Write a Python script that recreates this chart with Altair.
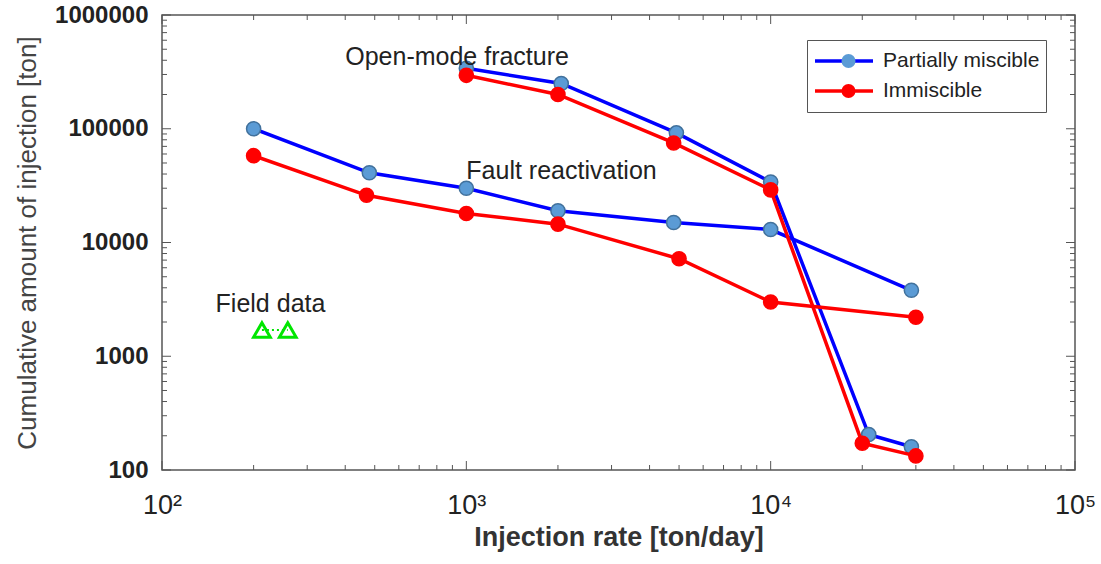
import altair as alt
import pandas as pd

# ---- data: injection rate [ton/day] vs cumulative injected mass [ton] ----
series_names = ["Partially miscible", "Immiscible"]

# fault-reactivation branch
fault_rate_pm = [200, 480, 1000, 2000, 4800, 10000, 29000]
fault_amt_pm = [100000, 41000, 30000, 19000, 15000, 13000, 3800]
fault_rate_im = [200, 470, 1000, 2000, 5000, 10000, 30000]
fault_amt_im = [58000, 26000, 18000, 14500, 7200, 3000, 2200]

# open-mode fracture branch
open_rate_pm = [1000, 2050, 4900, 10000, 21000, 29000]
open_amt_pm = [340000, 250000, 92000, 34000, 205, 160]
open_rate_im = [1000, 2000, 4800, 10000, 20000, 30000]
open_amt_im = [295000, 200000, 75000, 29000, 172, 133]

# field observations
field_rate = [213, 259]
field_amt = [1700, 1700]

# annotations
note_text = ["Open-mode fracture", "Fault reactivation", "Field data"]
note_rate = [400, 1000, 150]
note_amt = [430000, 42500, 2880]

# axis ticks
x_major = [100, 1000, 10000, 100000]
y_major = [100, 1000, 10000, 100000, 1000000]

line_colors = ["#0000ff", "#ff0000"]
marker_fill = ["#5b9bd5", "#ff0000"]
marker_edge = ["#41719c", "#ff0000"]

rows = []
for name, branch, rates, amts in [
    (series_names[0], "fault", fault_rate_pm, fault_amt_pm),
    (series_names[1], "fault", fault_rate_im, fault_amt_im),
    (series_names[0], "open", open_rate_pm, open_amt_pm),
    (series_names[1], "open", open_rate_im, open_amt_im),
]:
    for r, a in zip(rates, amts):
        rows.append({"rate": r, "amount": a, "series": name,
                     "series_pt": name, "branch": branch})
df = pd.DataFrame(rows)

field_df = pd.DataFrame({"rate": field_rate, "amount": field_amt})
note_df = pd.DataFrame({"rate": note_rate, "amount": note_amt, "text": note_text})


def minor_ticks(majors):
    vals = []
    for m in majors[:-1]:
        vals += [k * m for k in range(2, 10)]
    return vals


x_ticks = pd.DataFrame({"v": x_major + minor_ticks(x_major),
                        "kind": ["major"] * len(x_major) + ["minor"] * (len(x_major) - 1) * 8})
y_ticks = pd.DataFrame({"v": y_major + minor_ticks(y_major),
                        "kind": ["major"] * len(y_major) + ["minor"] * (len(y_major) - 1) * 8})

W, H = 913, 455
TICK = {"major": 9, "minor": 5}
FRAME = "#555555"

xs = alt.Scale(type="log", domain=[100, 100000], nice=False)
ys = alt.Scale(type="log", domain=[100, 1000000], nice=False)

x_axis = alt.Axis(
    values=x_major, ticks=False, domain=False, grid=False,
    labelExpr="datum.value == 100 ? '10²' : datum.value == 1000 ? '10³' : "
              "datum.value == 10000 ? '10⁴' : '10⁵'",
    labelFontSize=27, labelColor="#222222", labelPadding=22, labelFlush=False,
    title="Injection rate [ton/day]", titleFontSize=27, titleFontWeight="bold",
    titleColor="#333333", titlePadding=6,
)
y_axis = alt.Axis(
    values=y_major, format="d", ticks=False, domain=False, grid=False,
    labelFontSize=24, labelFontWeight="bold", labelColor="#222222",
    labelPadding=14, labelFlush=False,
    title="Cumulative amount of injection [ton]", titleFontSize=26,
    titleFontWeight="normal", titleColor="#444444", titlePadding=14,
)


def X(field):
    return alt.X(field, scale=xs, axis=x_axis)


def Y(field):
    return alt.Y(field, scale=ys, axis=y_axis)


line_legend = alt.Legend(
    title=None, orient="none", legendX=645, legendY=25,
    symbolType="stroke", symbolSize=3364, symbolStrokeWidth=3.5,
    clipHeight=30, rowPadding=0, padding=6, strokeColor=FRAME,
    labelFontSize=21, labelColor="#222222", labelOffset=8, symbolOffset=0,
)
# circle markers laid over the line symbols; their labels stay blank
point_legend = alt.Legend(
    title=None, orient="none", legendX=645, legendY=25,
    symbolType="circle", symbolSize=196, symbolStrokeWidth=1.5,
    clipHeight=30, rowPadding=0, padding=6,
    labelFontSize=21, labelExpr="''", labelOffset=53, symbolOffset=25,
)

base = alt.Chart(df)
layers = []
for i, name in enumerate(series_names):
    sub = base.transform_filter(alt.datum.series == name)
    layers.append(
        sub.mark_line(strokeWidth=3.5).encode(
            x=X("rate:Q"), y=Y("amount:Q"),
            color=alt.Color("series:N",
                            scale=alt.Scale(domain=series_names, range=line_colors),
                            legend=line_legend),
            detail="branch:N",
            order="rate:Q",
        )
    )
    layers.append(
        sub.mark_point(filled=True, size=200, opacity=1, strokeWidth=1.5).encode(
            x=X("rate:Q"), y=Y("amount:Q"),
            fill=alt.Fill("series_pt:N", sort=series_names,
                          scale=alt.Scale(range=marker_fill),
                          legend=point_legend),
            stroke=alt.Stroke("series_pt:N", sort=series_names,
                              scale=alt.Scale(range=marker_edge),
                              legend=None),
        )
    )

# field data: open green triangles joined by a dotted line
field_line = alt.Chart(field_df).mark_line(
    color="#00e600", strokeWidth=2, strokeDash=[2, 3]
).encode(x=X("rate:Q"), y=Y("amount:Q"))
field_pts = alt.Chart(field_df).mark_point(
    shape="triangle-up", filled=False, size=280, strokeWidth=3,
    color="#00e600", opacity=1
).encode(x=X("rate:Q"), y=Y("amount:Q"))

notes = alt.Chart(note_df).mark_text(
    align="left", baseline="middle", fontSize=25, color="#222222"
).encode(x=X("rate:Q"), y=Y("amount:Q"), text="text:N")

# inward-pointing ticks on all four sides of the frame
tick_layers = []
for kind, length in TICK.items():
    xt = alt.Chart(x_ticks).transform_filter(alt.datum.kind == kind).mark_rule(
        color=FRAME, strokeWidth=1)
    yt = alt.Chart(y_ticks).transform_filter(alt.datum.kind == kind).mark_rule(
        color=FRAME, strokeWidth=1)
    tick_layers += [
        xt.encode(x=X("v:Q"), y=alt.value(H), y2=alt.value(H - length)),
        xt.encode(x=X("v:Q"), y=alt.value(0), y2=alt.value(length)),
        yt.encode(y=Y("v:Q"), x=alt.value(0), x2=alt.value(length)),
        yt.encode(y=Y("v:Q"), x=alt.value(W), x2=alt.value(W - length)),
    ]

chart = alt.layer(*layers, field_line, field_pts, notes, *tick_layers).properties(
    width=W, height=H,
    autosize=alt.AutoSizeParams(type="none"),
    padding={"left": 162, "top": 15, "right": 26, "bottom": 94},
    background="white",
).configure(font="Liberation Sans").configure_view(
    stroke=FRAME, strokeWidth=1.5
)

chart.save("out.html", embed_options={"renderer": "svg", "actions": False})
